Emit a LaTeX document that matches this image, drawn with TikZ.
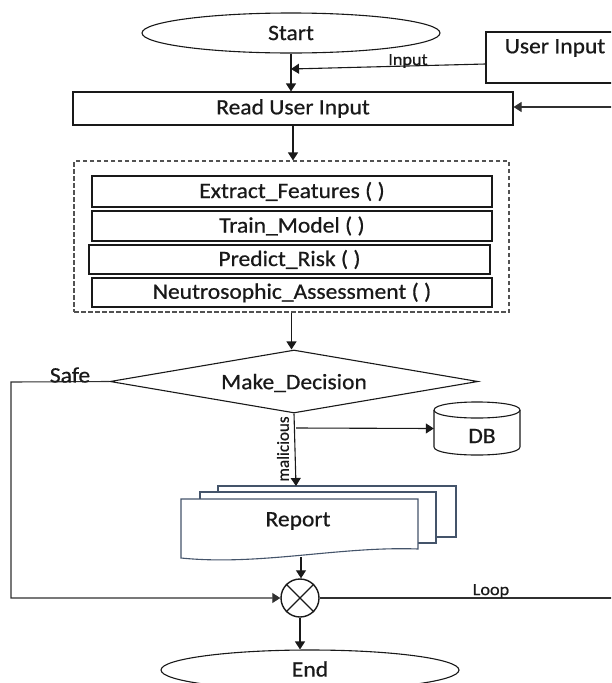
\documentclass[tikz,border=0pt]{standalone}
\usepackage{fontspec}
\setmainfont{Carlito}[FakeStretch=1.07,FakeBold=0.6]
\newfontfamily\plainfont{Carlito}[FakeBold=0.6]
\usetikzlibrary{shapes.geometric,arrows.meta}
\definecolor{sheet}{RGB}{68,84,106}
\definecolor{ink}{RGB}{25,25,25}
\begin{document}
\begin{tikzpicture}[x=1pt,y=-1pt,
  every node/.style={font=\fontsize{22}{26}\selectfont, text=ink},
  line/.style={draw=ink, line width=1.1pt},
  arr/.style={line, -{Triangle[length=8pt,width=10pt]}},
  boxnode/.style={line, rectangle, inner sep=0pt},
  oval/.style={line, ellipse, inner sep=0pt, minimum width=298pt, minimum height=40pt},
  small/.style={font=\fontsize{17}{20}\selectfont}]
\clip (0,0) rectangle (611,683);
\fill[white] (0,0) rectangle (611,683);

% terminals
\node[oval] (start) at (291,33) {Start};
\node[oval] (end) at (310,670) {};
\node at (310,669) {End};

% external input source
\node[boxnode, minimum width=138pt, minimum height=51pt] (ui) at (555,57.5) {};
\node at (555,48) {User Input};

% reading the input
\node[boxnode, minimum width=440pt, minimum height=33pt] (read) at (293,108.5) {Read User Input};
\coordinate (join) at (291,69);

% processing block
\node[draw=ink!75, line width=1.1pt, dash pattern=on 4.5pt off 2.5pt, rectangle, inner sep=0pt,
      minimum width=435pt, minimum height=151pt] (proc) at (291.5,236.5) {};
\node[boxnode, minimum width=400pt, minimum height=31pt] (feat) at (292,191.5) {Extract\_Features ( )};
\node[boxnode, line width=1.7pt, minimum width=400pt, minimum height=30pt] (train) at (292,226) {Train\_Model ( )};
\node[boxnode, minimum width=401pt, minimum height=29pt] (pred) at (289.5,259.5) {Predict\_Risk ( )};
\node[boxnode, minimum width=400pt, minimum height=29pt] (neut) at (292,292.5) {Neutrosophic\_Assessment ( )};

% decision
\node[line, diamond, aspect=5.9, inner sep=0pt, minimum width=368pt, minimum height=63pt] (dec) at (294,381.5) {};
\node at (294,383) {Make\_Decision};

% database cylinder
\node[rectangle, inner sep=0pt, minimum width=86pt, minimum height=53pt] (db) at (477,428.5) {};
\filldraw[line, fill=white] (434,410) -- (434,447) .. controls (434,457.7) and (520,457.7) .. (520,447)
   -- (520,410);
\draw[line] (434,410) .. controls (434,399.3) and (520,399.3) .. (520,410)
   .. controls (520,420.7) and (434,420.7) .. (434,410);
\node at (482,436) {DB};

% stacked report sheets
\filldraw[draw=sheet, fill=white, line width=1.1pt] (218,486) rectangle (456,537);
\filldraw[draw=sheet, fill=white, line width=1.1pt] (200,492) rectangle (436,543);
\filldraw[draw=sheet, fill=white, line width=1.1pt] (181,499) -- (418,499) -- (418,549)
   .. controls (340,546) and (260,566) .. (181,558) -- cycle;
\node (report) at (298,521) {Report};
\coordinate (rtop) at (296,486);
\coordinate (rbot) at (301,557);
\coordinate (br) at (296,428);

% summing junction
\node[line, line width=1.4pt, circle, inner sep=0pt, minimum size=38pt, fill=white] (sum) at (300,598) {};
\draw[line] (sum.45) -- (sum.225) (sum.135) -- (sum.315);

% loop corner points
\coordinate (sl) at (11,382);
\coordinate (sb) at (11,598);
\coordinate (lr) at (640,598);
\coordinate (lt) at (640,107);

% connectors
\draw[arr] (start.south) -- (start.south |- read.north);
\draw[arr] ([yshift=-6.5pt]ui.west) -- (join);
\node[small] at (408,61) {Input};
\draw[arr] (read.south) -- (read.south |- proc.north);
\draw[arr] (proc.south) -- (proc.south |- dec.north);
\draw[arr] (dec.south) -- (rtop);
\node[font=\plainfont\fontsize{17}{20}\selectfont, rotate=90] at (283,449) {malicious};
\draw[arr] (br) -- (db.west);
\draw[arr] (rbot) -- (rbot |- sum.north);
\draw[arr] (sum.south) -- (sum.south |- end.north);
\draw[arr, draw=ink!90] (dec.west) -- (sl) -- (sb) -- (sum.west);
\node at (70,375) {Safe};
\draw[arr, draw=ink!90] (sum.east) -- (lr) -- (lt) -- ([yshift=1.5pt]read.east);
\node[small] at (491,591) {Loop};
\end{tikzpicture}
\end{document}
